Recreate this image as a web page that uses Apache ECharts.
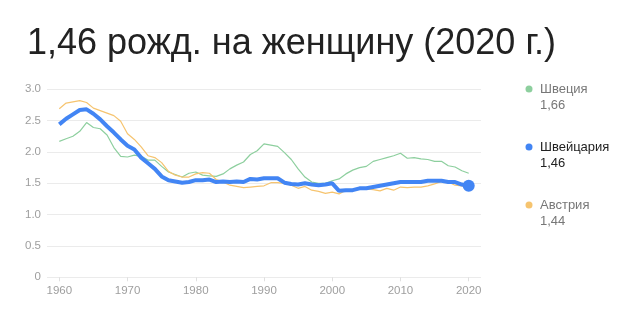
<!DOCTYPE html>
<html>
<head>
<meta charset="utf-8">
<script src="https://cdn.jsdelivr.net/npm/echarts@6/dist/echarts.min.js"></script>
<style>html,body{margin:0;padding:0;background:#fff}#c{width:631px;height:325px}</style>
</head>
<body>
<div id="c"></div>
<script>
var titleText = '1,46 рожд. на женщину (2020 г.)';
var years = [];
for (var y = 1960; y <= 2020; y++) years.push(y);
var xTicks = [1960, 1970, 1980, 1990, 2000, 2010, 2020];
var seriesNames = ['Швеция', 'Швейцария', 'Австрия'];
var sweden = [2.17,2.21,2.25,2.33,2.47,2.39,2.37,2.27,2.07,1.93,1.92,1.95,1.93,1.87,1.87,1.77,1.68,1.64,1.60,1.66,1.68,1.63,1.62,1.61,1.65,1.73,1.79,1.84,1.96,2.02,2.13,2.11,2.09,1.99,1.88,1.73,1.60,1.52,1.50,1.50,1.54,1.57,1.65,1.71,1.75,1.77,1.85,1.88,1.91,1.94,1.98,1.90,1.91,1.89,1.88,1.85,1.85,1.78,1.76,1.70,1.66];
var switzerland = [2.44,2.53,2.60,2.67,2.68,2.61,2.52,2.41,2.31,2.20,2.10,2.04,1.91,1.82,1.73,1.61,1.55,1.53,1.51,1.52,1.55,1.55,1.56,1.52,1.53,1.52,1.53,1.52,1.57,1.56,1.58,1.58,1.58,1.51,1.49,1.48,1.50,1.48,1.47,1.48,1.50,1.38,1.39,1.39,1.42,1.42,1.44,1.46,1.48,1.50,1.52,1.52,1.52,1.52,1.54,1.54,1.54,1.52,1.52,1.48,1.46];
var austria = [2.69,2.78,2.80,2.82,2.79,2.70,2.66,2.62,2.58,2.49,2.29,2.20,2.08,1.94,1.91,1.83,1.69,1.63,1.60,1.60,1.65,1.67,1.66,1.56,1.52,1.47,1.45,1.43,1.44,1.45,1.46,1.51,1.51,1.50,1.47,1.42,1.45,1.39,1.37,1.34,1.36,1.33,1.39,1.38,1.42,1.41,1.40,1.38,1.42,1.39,1.44,1.43,1.44,1.44,1.46,1.49,1.53,1.52,1.47,1.46,1.44];
var colors = ['#8dcf9e', '#4285f4', '#f6c46f'];

function pairs(arr) { return arr.map(function (v, i) { return [years[i], v]; }); }
function fmt(v) { return v.toFixed(2).replace('.', ','); }

var chart = echarts.init(document.getElementById('c'));
var font = 'Arial, "Liberation Sans", sans-serif';

var swData = pairs(switzerland);
var last = swData.length - 1;
swData[last] = { value: swData[last], symbol: 'circle', symbolSize: 12 };

var allSeries = [sweden, switzerland, austria];
var legendGraphics = [];
var legendY = [89, 147, 205];
for (var i = 0; i < 3; i++) {
  var active = i === 1;
  legendGraphics.push({
    type: 'circle', shape: { cx: 529, cy: legendY[i], r: 3.5 }, style: { fill: colors[i] }
  });
  legendGraphics.push({
    type: 'text', x: 540, y: legendY[i] - 8,
    style: { text: seriesNames[i] + '\n' + fmt(allSeries[i][allSeries[i].length - 1]), fill: active ? '#222' : '#777', font: '13px ' + font, lineHeight: 16 }
  });
}
legendGraphics.push({
  type: 'text', x: 27, y: 44,
  style: { text: titleText, fill: '#222', font: '36px ' + font, verticalAlign: 'middle' }
});

chart.setOption({
  animation: false,
  grid: { left: 47, right: 150, top: 89.3, bottom: 47.7 },
  xAxis: {
    type: 'value', min: 1958.2, max: 2021.8,
    axisLine: { show: false },
    splitLine: { show: false },
    axisTick: { show: true, customValues: xTicks, length: 4, lineStyle: { color: '#e0e0e0' } },
    axisLabel: { customValues: xTicks, color: '#9e9e9e', fontSize: 11.5, fontFamily: font, margin: 8, formatter: function (v) { return String(v); } }
  },
  yAxis: {
    type: 'value', min: 0, max: 3, interval: 0.5,
    axisLine: { show: false }, axisTick: { show: false },
    splitLine: { lineStyle: { color: '#ebebeb' } },
    axisLabel: { color: '#9e9e9e', fontSize: 11.5, fontFamily: font, margin: 6, formatter: function (v) { return v === 0 ? '0' : v.toFixed(1); } }
  },
  graphic: legendGraphics,
  series: [
    { name: seriesNames[0], type: 'line', data: pairs(sweden), symbol: 'none', lineStyle: { color: colors[0], width: 1.2 }, itemStyle: { color: colors[0] }, z: 2 },
    { name: seriesNames[2], type: 'line', data: pairs(austria), symbol: 'none', lineStyle: { color: colors[2], width: 1.2 }, itemStyle: { color: colors[2] }, z: 2 },
    { name: seriesNames[1], type: 'line', data: swData, symbol: 'none', showSymbol: true, lineStyle: { color: colors[1], width: 4 }, itemStyle: { color: colors[1] }, z: 3 }
  ]
});
</script>
</body>
</html>
